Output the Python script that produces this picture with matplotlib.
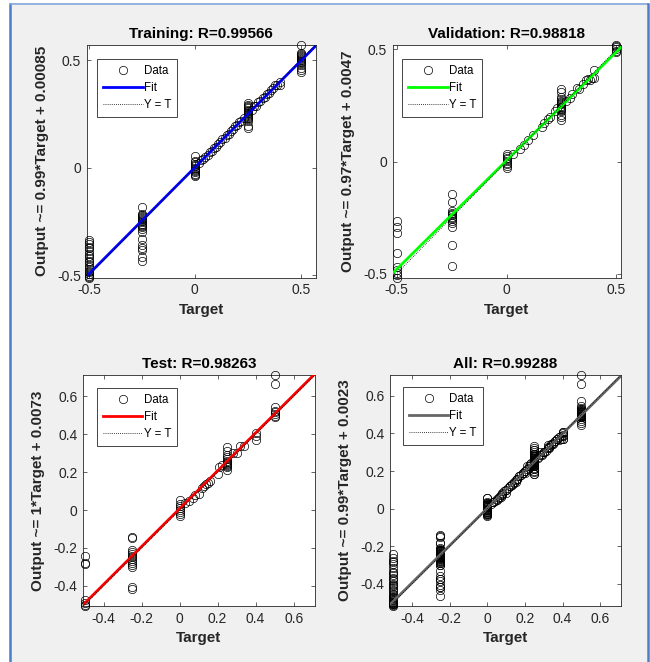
import matplotlib.pyplot as plt
import numpy as np
from matplotlib.lines import Line2D
from matplotlib.patches import Rectangle

plt.rcParams['font.family'] = ['Liberation Sans', 'DejaVu Sans']

# ---- data ----
names = ['Training', 'Validation', 'Test', 'All']
r_vals = [0.99566, 0.98818, 0.98263, 0.99288]
slopes = [0.99, 0.97, 1, 0.99]
offsets = [0.00085, 0.0047, 0.0073, 0.0023]
fit_colors = ['#0000ff', '#00ff00', '#ff0000', '#666666']

train_t = [-0.5, -0.5, -0.5, -0.5, -0.5, -0.5, -0.5, -0.5, -0.5, -0.5,
           -0.5, -0.5, -0.5, -0.5, -0.5, -0.5, -0.5, -0.5, -0.5, -0.5,
           -0.25, -0.25, -0.25, -0.25, -0.25, -0.25, -0.25, -0.25, -0.25, -0.25, -0.25,
           -0.25, -0.25, -0.25, -0.25, -0.25, -0.25, -0.25, -0.25, -0.25, -0.25, -0.25,
           0, 0, 0, 0, 0, 0, 0, 0, 0, 0, 0, 0, 0, 0,
           0.02, 0.03, 0.04, 0.05, 0.06, 0.07, 0.08, 0.09, 0.10, 0.11, 0.12, 0.13,
           0.14, 0.15, 0.16, 0.17, 0.18, 0.19, 0.20, 0.21, 0.22, 0.23,
           0.27, 0.28, 0.29, 0.30, 0.31, 0.32, 0.33, 0.34, 0.35, 0.36, 0.37, 0.38,
           0.39, 0.40, 0.40,
           0.25, 0.25, 0.25, 0.25, 0.25, 0.25, 0.25, 0.25, 0.25, 0.25, 0.25, 0.25,
           0.25, 0.25, 0.25, 0.25, 0.25, 0.25,
           0.5, 0.5, 0.5, 0.5, 0.5, 0.5, 0.5, 0.5, 0.5, 0.5, 0.5, 0.5, 0.5, 0.5, 0.5, 0.5]
train_y = [-0.336, -0.345, -0.353, -0.368, -0.375, -0.387, -0.40, -0.41, -0.42, -0.433,
           -0.44, -0.452, -0.46, -0.472, -0.48, -0.487, -0.495, -0.503, -0.508, -0.512,
           -0.181, -0.215, -0.22, -0.225, -0.23, -0.235, -0.24, -0.245, -0.25, -0.255, -0.26,
           -0.265, -0.27, -0.278, -0.286, -0.30, -0.333, -0.36, -0.372, -0.384, -0.418, -0.433,
           0.054, 0.031, 0.025, 0.018, 0.012, 0.006, 0.0, -0.005, -0.01, -0.016, -0.022,
           -0.028, -0.034, -0.039,
           0.022, 0.035, 0.038, 0.048, 0.06, 0.072, 0.078, 0.092, 0.098, 0.112, 0.118, 0.133,
           0.138, 0.152, 0.158, 0.172, 0.178, 0.192, 0.2, 0.212, 0.218, 0.232,
           0.268, 0.285, 0.288, 0.303, 0.308, 0.322, 0.328, 0.342, 0.348, 0.362, 0.368, 0.382,
           0.386, 0.40, 0.385,
           0.302, 0.29, 0.285, 0.28, 0.275, 0.27, 0.265, 0.26, 0.255, 0.25, 0.245, 0.24,
           0.235, 0.23, 0.225, 0.217, 0.195, 0.183,
           0.57, 0.535, 0.53, 0.525, 0.52, 0.515, 0.51, 0.505, 0.50, 0.495, 0.49, 0.485,
           0.475, 0.465, 0.455, 0.445]

val_t = [-0.5, -0.5, -0.5, -0.5, -0.5, -0.5, -0.5, -0.5, -0.5,
         -0.25, -0.25, -0.25, -0.25, -0.25, -0.25, -0.25, -0.25, -0.25, -0.25, -0.25,
         -0.25, -0.25, -0.25,
         0, 0, 0, 0, 0, 0, 0, 0, 0,
         0.03, 0.06, 0.08, 0.10, 0.12, 0.16, 0.17, 0.19, 0.20, 0.22, 0.23,
         0.27, 0.29, 0.30, 0.32, 0.33, 0.35, 0.36, 0.37, 0.38, 0.39, 0.40, 0.40,
         0.25, 0.25, 0.25, 0.25, 0.25, 0.25, 0.25, 0.25, 0.25, 0.25, 0.25, 0.25,
         0.25, 0.25, 0.25, 0.25, 0.25,
         0.5, 0.5, 0.5, 0.5, 0.5, 0.5]
val_y = [-0.265, -0.293, -0.317, -0.406, -0.47, -0.484, -0.499, -0.508, -0.518,
         -0.144, -0.181, -0.222, -0.228, -0.234, -0.24, -0.246, -0.252, -0.258, -0.265, -0.275,
         -0.29, -0.372, -0.464,
         0.035, 0.025, 0.018, 0.01, 0.003, -0.005, -0.012, -0.02, -0.03,
         0.035, 0.058, 0.075, 0.098, 0.118, 0.155, 0.172, 0.19, 0.198, 0.225, 0.24,
         0.272, 0.285, 0.302, 0.33, 0.322, 0.345, 0.362, 0.37, 0.365, 0.372, 0.41, 0.372,
         0.323, 0.31, 0.29, 0.28, 0.27, 0.265, 0.26, 0.255, 0.25, 0.245, 0.24, 0.235,
         0.23, 0.225, 0.21, 0.2, 0.186,
         0.52, 0.515, 0.51, 0.5, 0.495, 0.49]

test_t = [-0.5, -0.5, -0.5, -0.5, -0.5, -0.5, -0.5,
          -0.25, -0.25, -0.25, -0.25, -0.25, -0.25, -0.25, -0.25, -0.25, -0.25, -0.25,
          -0.25, -0.25, -0.25,
          0, 0, 0, 0, 0, 0, 0, 0,
          0.03, 0.05, 0.07, 0.08, 0.10, 0.12, 0.13, 0.14, 0.15, 0.16, 0.20, 0.21, 0.225,
          0.28, 0.30, 0.32, 0.34,
          0.25, 0.25, 0.25, 0.25, 0.25, 0.25, 0.25, 0.25, 0.25, 0.25, 0.25, 0.25, 0.25,
          0.4, 0.4, 0.4,
          0.5, 0.5, 0.5, 0.5, 0.5, 0.5, 0.5, 0.5]
test_y = [-0.244, -0.28, -0.285, -0.475, -0.49, -0.5, -0.508,
          -0.14, -0.15, -0.21, -0.22, -0.23, -0.24, -0.25, -0.26, -0.27, -0.28, -0.29,
          -0.30, -0.405, -0.418,
          0.055, 0.03, 0.02, 0.01, 0.0, -0.01, -0.02, -0.03,
          0.035, 0.05, 0.062, 0.082, 0.085, 0.118, 0.128, 0.14, 0.142, 0.155, 0.192, 0.228, 0.236,
          0.30, 0.30, 0.34, 0.338,
          0.335, 0.31, 0.29, 0.28, 0.27, 0.26, 0.255, 0.25, 0.245, 0.24, 0.235, 0.225, 0.212,
          0.405, 0.39, 0.372,
          0.711, 0.664, 0.545, 0.525, 0.515, 0.505, 0.495, 0.49]

all_t = train_t + val_t + test_t
all_y = train_y + val_y + test_y

targets = [train_t, val_t, test_t, all_t]
outputs = [train_y, val_y, test_y, all_y]

tick_sets = [[-0.5, 0, 0.5], [-0.5, 0, 0.5],
             [-0.4, -0.2, 0, 0.2, 0.4, 0.6], [-0.4, -0.2, 0, 0.2, 0.4, 0.6]]

# axes rectangles (figure fraction)
rects = [[0.1331, 0.5805, 0.3523, 0.3515],
         [0.6042, 0.5805, 0.3508, 0.3515],
         [0.1277, 0.0841, 0.3565, 0.3489],
         [0.6000, 0.0846, 0.3554, 0.3490]]
leg_pos = [(0.046, 0.94), (0.041, 0.94), (0.06, 0.946), (0.055, 0.948)]

axc = '#262626'

fig = plt.figure(figsize=(6.5, 6.62), dpi=100, facecolor='white')
fig.patches.append(Rectangle((10 / 650, 0), 637 / 650, 1 - 4.5 / 662,
                             transform=fig.transFigure, facecolor='#f0f0f0',
                             edgecolor='none', zorder=-10))
fig.lines.append(Line2D([9.5 / 650, 9.5 / 650], [0, 1 - 4 / 662], transform=fig.transFigure,
                        color='#4a7ec6', lw=1.8, zorder=-5))
fig.lines.append(Line2D([9.5 / 650, 648 / 650], [1 - 4 / 662, 1 - 4 / 662],
                        transform=fig.transFigure, color='#7fa6d9', lw=1.2, zorder=-5))
fig.lines.append(Line2D([647.5 / 650, 647.5 / 650], [0, 1 - 4 / 662], transform=fig.transFigure,
                        color='#4a7ec6', lw=1.8, zorder=-5))

for i in range(4):
    ax = fig.add_axes(rects[i], zorder=1)
    t = np.array(targets[i])
    y = np.array(outputs[i])
    lo = min(t.min(), y.min())
    hi = max(t.max(), y.max())

    h_data, = ax.plot(t, y, 'o', mfc='none', mec='k', ms=6, mew=0.5,
                      clip_on=False, zorder=3)
    xx = np.array([lo, hi])
    h_fit, = ax.plot(xx, slopes[i] * xx + offsets[i], color=fit_colors[i], lw=2, zorder=4)
    h_yt, = ax.plot(xx, xx, color='k', lw=0.6, ls=(0, (1, 1.5)), zorder=5)

    ax.set_xlim(lo, hi)
    ax.set_ylim(lo, hi)
    ax.set_xticks(tick_sets[i])
    ax.set_yticks(tick_sets[i])
    ax.set_xticklabels(['{:g}'.format(v) for v in tick_sets[i]])
    ax.set_yticklabels(['{:g}'.format(v) for v in tick_sets[i]])
    ax.tick_params(direction='in', length=3, width=0.5, colors=axc, labelsize=10,
                   top=True, right=True, pad=4)
    for s in ax.spines.values():
        s.set_color(axc)
        s.set_linewidth(0.6)

    ax.set_title('{}: R={:.5f}'.format(names[i], r_vals[i]), fontsize=11,
                 fontweight='bold', color='k', pad=5)
    ax.set_xlabel('Target', fontsize=11, fontweight='bold', color=axc, labelpad=4)
    ax.set_ylabel('Output ~= {:g}*Target + {:g}'.format(slopes[i], offsets[i]),
                  fontsize=11, fontweight='bold', color=axc, labelpad=6)

    leg = ax.legend([h_data, h_fit, h_yt], ['Data', 'Fit', 'Y = T'], loc='upper left',
                    bbox_to_anchor=leg_pos[i], fontsize=8.3, frameon=True, fancybox=False,
                    framealpha=1, edgecolor=axc, handlelength=3.4, handletextpad=0.1,
                    borderpad=0.55, labelspacing=0.42, borderaxespad=0)
    leg.get_frame().set_linewidth(0.6)

fig.savefig('out.png', dpi=100, facecolor=fig.get_facecolor())
